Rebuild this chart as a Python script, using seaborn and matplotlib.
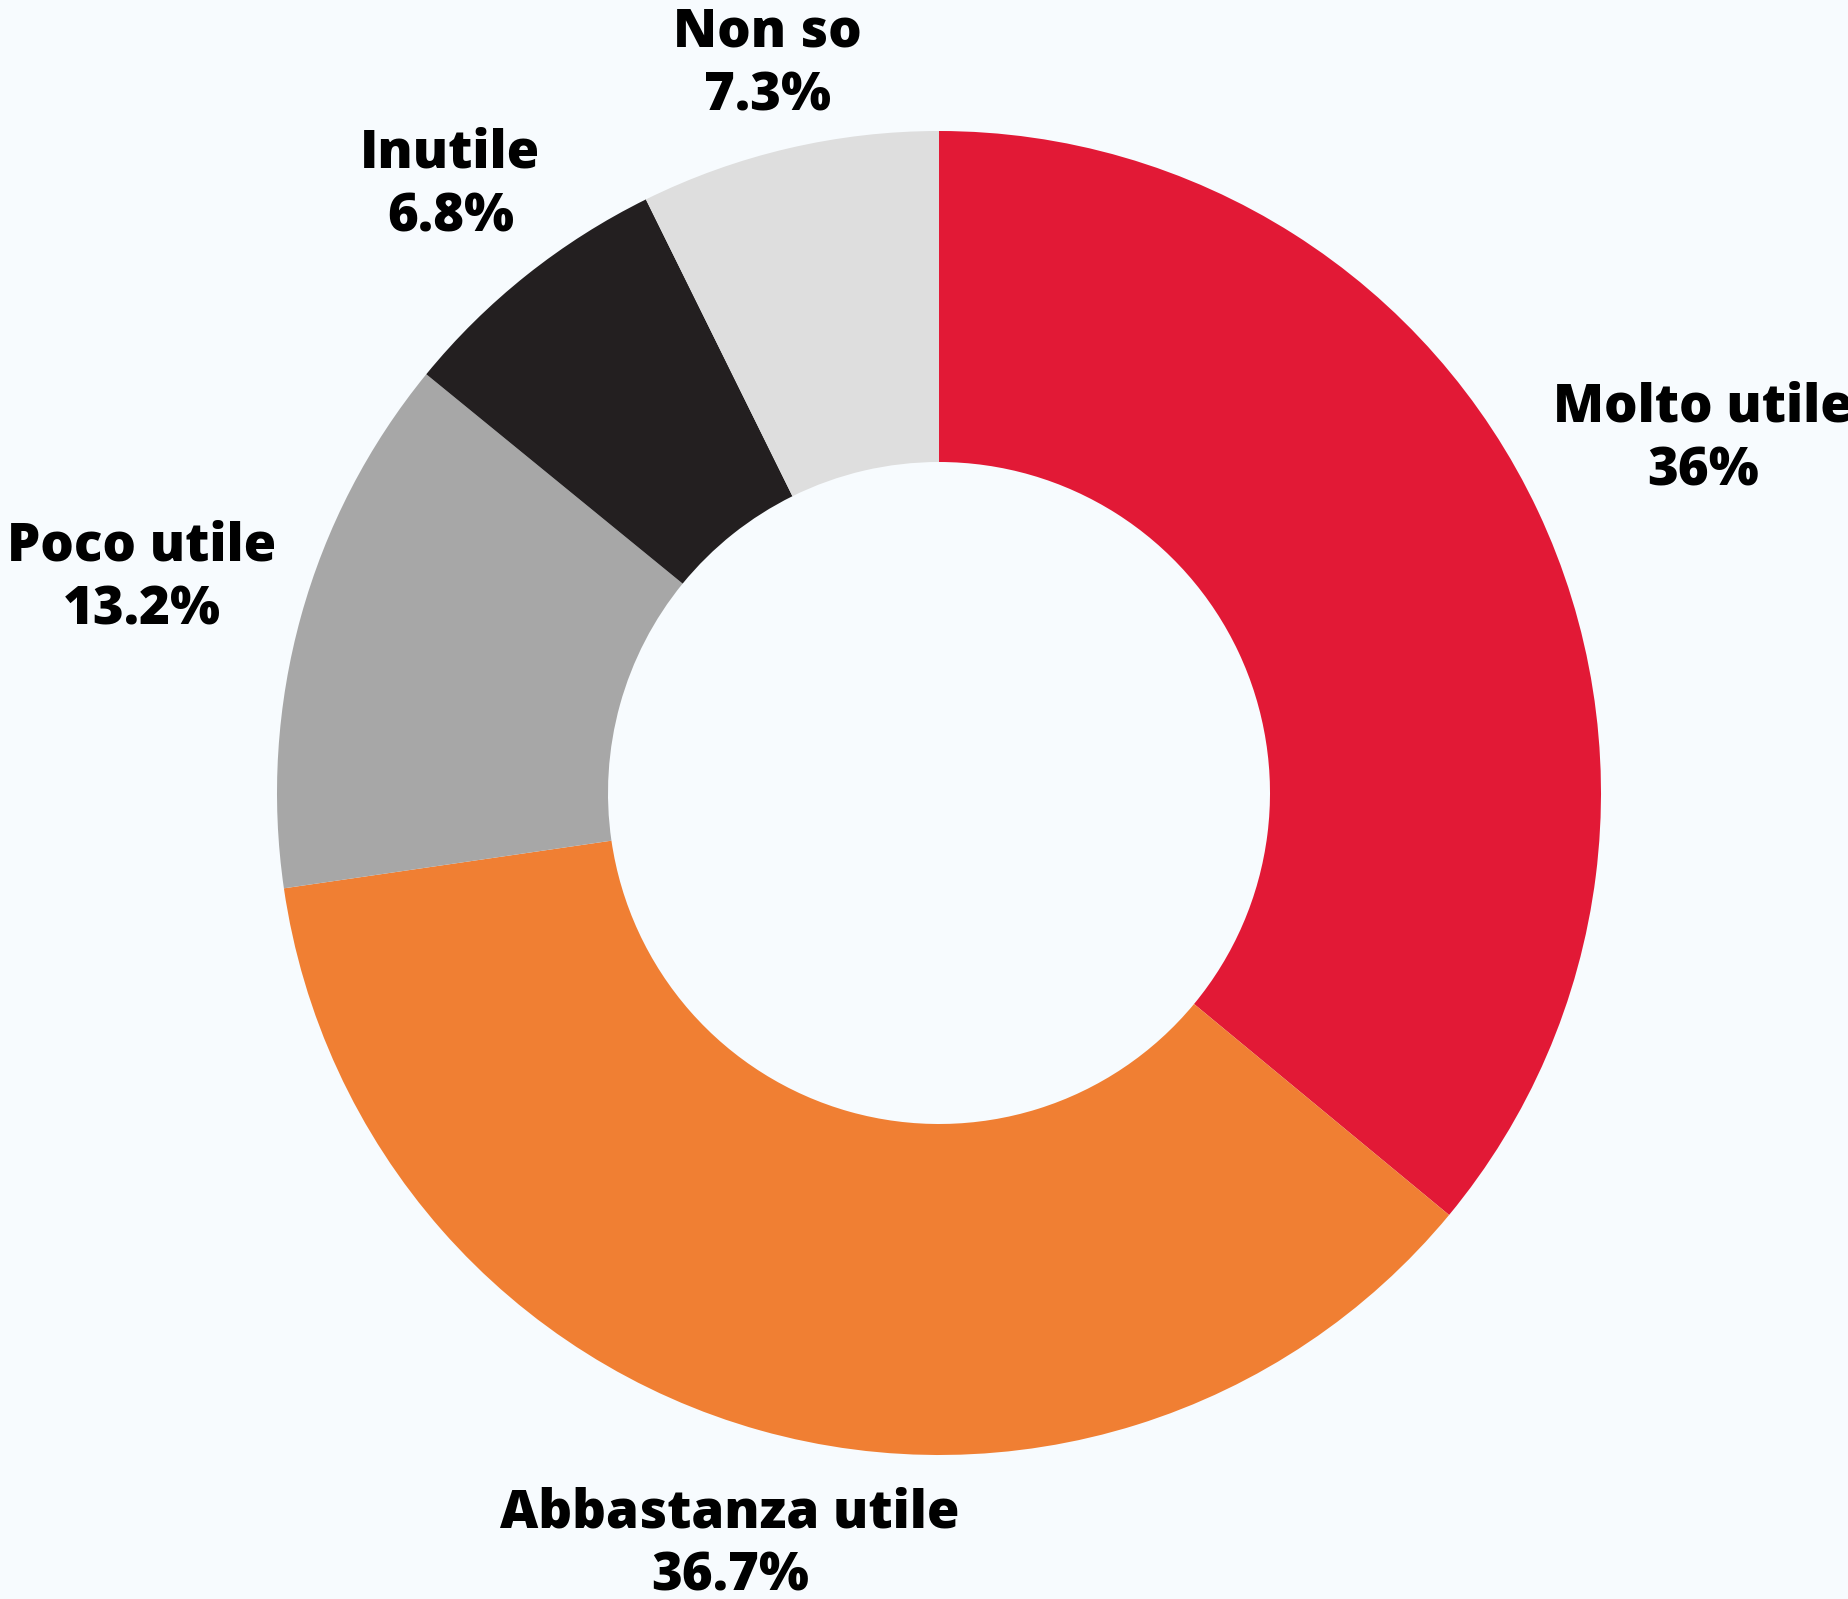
#!/usr/bin/env python3

import numpy as np
import seaborn as sns
import matplotlib.pyplot as plt

categories = ['Molto utile', 'Abbastanza utile', 'Poco utile', 'Inutile', 'Non so']
values = [36.0, 36.7, 13.2, 6.8, 7.3]
pct_labels = ['36%', '36.7%', '13.2%', '6.8%', '7.3%']

colors = ['#E21936', '#F07F33', '#A7A7A7', '#231F20', '#DEDEDE']
label_dist = [1.275, 1.17, 1.25, 1.185, 1.14]
bg = '#F7FBFE'

sns.set_theme(style='white')
plt.rcParams['font.family'] = ['Open Sans', 'DejaVu Sans']

fig = plt.figure(figsize=(18.48, 15.99), dpi=100, facecolor=bg)
ax = fig.add_axes([277 / 1848, 144 / 1599, 1324 / 1848, 1324 / 1599])
ax.set_facecolor(bg)

wedges, _ = ax.pie(values, colors=colors, startangle=90, counterclock=False,
                   wedgeprops=dict(width=0.5, linewidth=0))

for w, cat, pct, d in zip(wedges, categories, pct_labels, label_dist):
    mid = np.deg2rad((w.theta1 + w.theta2) / 2)
    ax.text(d * np.cos(mid), d * np.sin(mid) - 0.01, f'{cat}\n{pct}',
            ha='center', va='center', fontsize=38, fontweight=800,
            color='black', linespacing=1.27)

ax.set_xlim(-1, 1)
ax.set_ylim(-1, 1)
ax.set_aspect('equal')
ax.axis('off')

fig.savefig('out.png', dpi=100, facecolor=bg)
